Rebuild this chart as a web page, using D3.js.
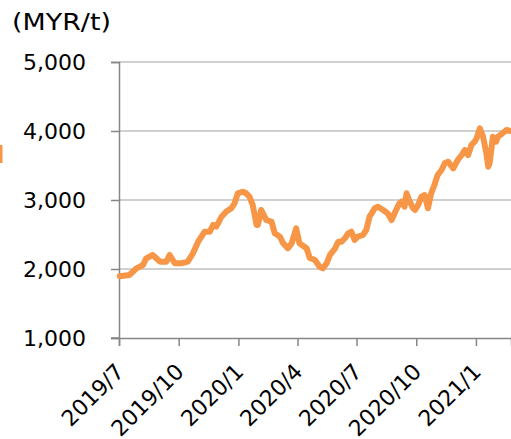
<!DOCTYPE html>
<html>
<head>
<meta charset="utf-8">
<script src="https://cdn.jsdelivr.net/npm/d3@7"></script>
<style>
  body { margin: 0; background: #fff; }
  text { font-family: "DejaVu Sans", Verdana, sans-serif; fill: #000; }
</style>
</head>
<body>
<div class="chart"></div>
<script>
// palm oil price, MYR per tonne
var dates = [
  "2019-07-02","2019-07-17","2019-07-28","2019-08-07","2019-08-12","2019-08-22","2019-09-02","2019-09-12",
  "2019-09-17","2019-09-25","2019-10-05","2019-10-15","2019-10-23","2019-10-31","2019-11-10","2019-11-18",
  "2019-11-23","2019-11-28","2019-12-06","2019-12-13","2019-12-21","2019-12-26","2019-12-31","2020-01-08",
  "2020-01-13","2020-01-18","2020-01-23","2020-01-29","2020-01-31","2020-02-05","2020-02-13","2020-02-21",
  "2020-02-26","2020-03-05","2020-03-10","2020-03-17","2020-03-23","2020-03-30","2020-04-04","2020-04-15",
  "2020-04-20","2020-04-28","2020-05-05","2020-05-10","2020-05-16","2020-05-21","2020-05-29","2020-06-03",
  "2020-06-08","2020-06-13","2020-06-18","2020-06-23","2020-06-28","2020-07-03","2020-07-11","2020-07-16",
  "2020-07-21","2020-07-26","2020-07-29","2020-08-03","2020-08-11","2020-08-18","2020-08-24","2020-08-31",
  "2020-09-05","2020-09-08","2020-09-13","2020-09-16","2020-09-21","2020-09-26","2020-09-29","2020-10-04",
  "2020-10-09","2020-10-14","2020-10-19","2020-10-24","2020-10-29","2020-11-03","2020-11-09","2020-11-14",
  "2020-11-19","2020-11-27","2020-12-04","2020-12-10","2020-12-15","2020-12-20","2020-12-25","2020-12-30",
  "2021-01-02","2021-01-07","2021-01-12","2021-01-17","2021-01-20","2021-01-22","2021-01-25","2021-01-27",
  "2021-02-01","2021-02-04","2021-02-11","2021-02-17","2021-02-24"
];
var prices = [
  1895,1913,2010,2058,2155,2203,2106,2106,
  2203,2083,2083,2106,2228,2396,2541,2541,
  2638,2613,2758,2830,2880,2952,3097,3120,
  3097,3048,2928,2638,2638,2855,2710,2686,
  2517,2468,2372,2300,2372,2590,2372,2300,
  2159,2130,2033,2010,2083,2203,2300,2396,
  2396,2445,2517,2541,2420,2468,2493,2565,
  2758,2830,2880,2903,2855,2807,2710,2855,
  2952,2975,2903,3097,2975,2884,2855,2928,
  3048,3072,2880,3097,3217,3362,3435,3532,
  3555,3459,3580,3652,3725,3652,3797,3845,
  3894,4039,3917,3677,3483,3532,3749,3917,
  3845,3917,3967,4015,4000
];
var yTicks = [1000, 2000, 3000, 4000, 5000];
var xTicks = ["2019-07-01","2019-10-01","2020-01-01","2020-04-01","2020-07-01","2020-10-01","2021-01-01"];
var unitLabel = "(MYR/t)";

var svgWidth = 511;
var svgHeight = 439;
var plotLeft = 119, plotTop = 62, plotBottom = 338, plotRight = 511;

var parseDate = d3.timeParse("%Y-%m-%d");
var data = dates.map(function(d, i) { return { date: parseDate(d), price: prices[i] }; });

var svg = d3.select(".chart").append("svg")
  .attr("width", svgWidth)
  .attr("height", svgHeight);

var x = d3.scaleTime()
  .domain([parseDate("2019-07-01"), parseDate("2021-02-24")])
  .range([plotLeft, plotRight]);

var y = d3.scaleLinear()
  .domain([1000, 5000])
  .range([plotBottom, plotTop]);

// gridlines
svg.append("g")
  .selectAll("line")
  .data(yTicks.slice(1))
  .enter()
  .append("line")
  .attr("x1", plotLeft)
  .attr("x2", plotRight)
  .attr("y1", d => y(d))
  .attr("y2", d => y(d))
  .attr("stroke", "#c0c0c0")
  .attr("stroke-width", 1.5);

// y axis
var yAxis = svg.append("g")
  .attr("transform", `translate(${plotLeft}, 0)`)
  .call(d3.axisLeft(y).tickValues(yTicks).tickSize(8).tickPadding(25).tickFormat(d3.format(",")));
yAxis.select(".domain").attr("stroke", "#868686").attr("stroke-width", 1.5);
yAxis.selectAll(".tick line").attr("stroke", "#868686").attr("stroke-width", 1.5);
yAxis.selectAll(".tick text")
  .style("font-size", "22px")
  .attr("font-family", null)
  .attr("dy", "0.36em");

// x axis
var xAxis = svg.append("g")
  .attr("transform", `translate(0, ${plotBottom})`)
  .call(d3.axisBottom(x).tickValues(xTicks.map(parseDate)).tickSize(8).tickFormat(d3.timeFormat("%Y/%-m")));
xAxis.select(".domain").attr("stroke", "#868686").attr("stroke-width", 1.5);
xAxis.selectAll(".tick line").attr("stroke", "#868686").attr("stroke-width", 1.5);
xAxis.selectAll(".tick text")
  .style("font-size", "22px")
  .attr("font-family", null)
  .attr("y", 0)
  .attr("dy", 0)
  .attr("text-anchor", "end")
  .attr("transform", "translate(6, 35) rotate(-45)");

// axis line stub left of the plot
svg.append("line")
  .attr("x1", plotLeft - 8).attr("x2", plotLeft)
  .attr("y1", plotBottom).attr("y2", plotBottom)
  .attr("stroke", "#868686").attr("stroke-width", 1.5);

// price line
var line = d3.line()
  .x(d => x(d.date))
  .y(d => y(d.price));

svg.append("path")
  .datum(data)
  .attr("d", line)
  .attr("fill", "none")
  .attr("stroke", "#f79646")
  .attr("stroke-width", 6)
  .attr("stroke-linejoin", "round")
  .attr("stroke-linecap", "round");

// unit label
svg.append("text")
  .attr("x", 12)
  .attr("y", 30)
  .style("font-size", "23px")
  .attr("textLength", 99)
  .attr("lengthAdjust", "spacingAndGlyphs")
  .text(unitLabel);

// legend swatch cut off at the left edge
svg.append("rect")
  .attr("x", 0)
  .attr("y", 145)
  .attr("width", 2.5)
  .attr("height", 18)
  .attr("fill", "#f79646");
</script>
</body>
</html>
